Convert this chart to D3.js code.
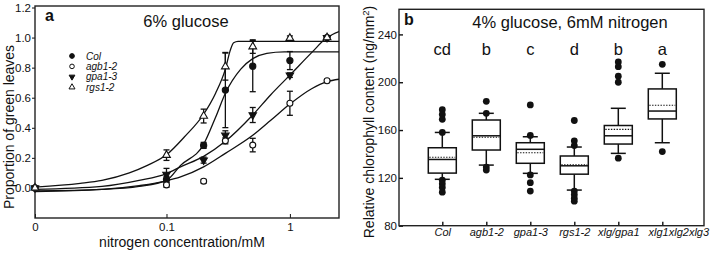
<!DOCTYPE html>
<html>
<head>
<meta charset="utf-8">
<script src="https://cdn.jsdelivr.net/npm/d3@7"></script>
<style>
  body { margin: 0; background: #fff; }
  svg { display: block; font-family: "Liberation Sans", Arial, sans-serif; }
</style>
</head>
<body>
<script>
// panel a: proportion of green leaves vs nitrogen
const conc = [0, 0.1, 0.2, 0.3, 0.5, 1, 2]
const colMean = [0, 0.056, 0.283, 0.651, 0.81, 0.847, 1.0]
const colErr = [0, 0.02, 0.02, 0.25, 0.17, 0.06, 0.01]
const agbMean = [0, 0.02, 0.045, 0.313, 0.285, 0.563, 0.713]
const agbErr = [0, 0.015, 0.012, 0.02, 0.045, 0.08, 0.01]
const gpaMean = [0, 0.09, 0.185, 0.35, 0.485, 0.75, 1.0]
const gpaErr = [0, 0.04, 0.02, 0.03, 0.05, 0.015, 0.01]
const rgsMean = [0, 0.218, 0.478, 0.807, 0.94, 0.996, 1.0]
const rgsErr = [0, 0.035, 0.046, 0.09, 0.045, 0.015, 0.01]

// fitted curves [conc, value]
const colFit = [[0.0086, -0.02], [0.03, -0.01], [0.06, 0.01], [0.1, 0.05], [0.13, 0.15], [0.2, 0.29], [0.25, 0.47], [0.3, 0.63], [0.4, 0.79], [0.5, 0.86], [0.65, 0.895], [0.9, 0.905], [2.5, 0.905]]
const agbFit = [[0.0086, -0.024], [0.03, -0.01], [0.06, 0.015], [0.1, 0.047], [0.13, 0.073], [0.2, 0.14], [0.3, 0.23], [0.5, 0.35], [0.7, 0.45], [1, 0.558], [1.5, 0.66], [2, 0.707], [2.5, 0.723]]
const gpaFit = [[0.0086, -0.01], [0.03, 0.01], [0.06, 0.05], [0.1, 0.095], [0.13, 0.14], [0.2, 0.21], [0.3, 0.31], [0.5, 0.485], [0.7, 0.62], [1, 0.75], [1.5, 0.9], [2, 1.0], [2.5, 1.04]]
const rgsFit = [[0.0086, 0.005], [0.02, 0.03], [0.03, 0.05], [0.05, 0.1], [0.07, 0.15], [0.1, 0.22], [0.14, 0.34], [0.2, 0.49], [0.25, 0.63], [0.3, 0.79], [0.33, 0.92], [0.35, 0.965], [0.38, 0.975], [2.5, 0.975]]

const yTicksA = [0, 0.2, 0.4, 0.6, 0.8, 1.0, 1.2]
const xTickLabelsA = ['0', '0.1', '1']

// panel b: chlorophyll boxplots
const genotypes = ['Col', 'agb1-2', 'gpa1-3', 'rgs1-2', 'xlg/gpa1', 'xlg1xlg2xlg3']
const letters = ['cd', 'b', 'c', 'd', 'b', 'a']
const q1 = [124, 143.3, 132.2, 123.1, 148.3, 169.3]
const q3 = [145.2, 168.4, 149.4, 138.3, 163.8, 194.4]
const median = [135.4, 155.2, 143.9, 130.1, 155.2, 175.9]
const mean = [137.2, 154, 141, 131, 160.6, 180.7]
const whiskLo = [118.8, 130.7, 123.8, 109.8, 140.5, 149.4]
const whiskHi = [158, 174, 154.4, 145.8, 178.2, 207.5]
const outliers = [
  [177, 173, 169, 158, 118, 115, 112, 108],
  [184, 174, 129, 126.5],
  [181, 155.5, 122.5, 116, 109],
  [168, 151, 147, 109, 106, 103, 100.5],
  [217, 213, 205, 200, 136.5],
  [215, 142]
]
const yTicksB = [80, 120, 160, 200, 240]

const width = 711
const height = 253
const ink = '#111'

const svg = d3.select('body').append('svg')
  .attr('width', width)
  .attr('height', height)

// ---------- panel a ----------
const xMin = 0.0086
const xA = d3.scaleLog().domain([xMin, 2.5]).range([35, 339])
const yA = d3.scaleLinear().domain([-0.2, 1.21]).range([218, 6])
const xPos = c => xA(c === 0 ? xMin : c)

const ga = svg.append('g')

ga.append('defs').append('clipPath').attr('id', 'clipA')
  .append('rect')
  .attr('x', xA.range()[0]).attr('y', yA.range()[1])
  .attr('width', xA.range()[1] - xA.range()[0])
  .attr('height', yA.range()[0] - yA.range()[1])

const yAxisA = d3.axisLeft(yA)
  .tickValues(yTicksA)
  .tickFormat(d3.format('.1f'))
  .tickSize(3)
  .tickPadding(1)
ga.append('g')
  .attr('transform', `translate(${xA.range()[0]},0)`)
  .call(yAxisA)
  .call(g => g.select('.domain').remove())
  .call(g => g.selectAll('text').attr('font-size', 11.5).attr('fill', ink).attr('font-family', null))
  .call(g => g.selectAll('line').attr('stroke', ink))

const xAxisA = d3.axisBottom(xA)
  .tickValues([xMin, 0.1, 1])
  .tickFormat((d, i) => xTickLabelsA[i])
  .tickSize(-4)
  .tickPadding(5)
ga.append('g')
  .attr('transform', `translate(0,${yA.range()[0]})`)
  .call(xAxisA)
  .call(g => g.select('.domain').remove())
  .call(g => g.selectAll('text').attr('font-size', 11.5).attr('fill', ink).attr('font-family', null))
  .call(g => g.selectAll('line').attr('stroke', ink))

ga.append('rect')
  .attr('x', xA.range()[0]).attr('y', yA.range()[1])
  .attr('width', xA.range()[1] - xA.range()[0])
  .attr('height', yA.range()[0] - yA.range()[1])
  .attr('fill', 'none').attr('stroke', '#222').attr('stroke-width', 1.4)

// fit curves
const fitLine = d3.line()
  .x(d => xA(d[0]))
  .y(d => yA(d[1]))
  .curve(d3.curveMonotoneX)

ga.append('g')
  .attr('clip-path', 'url(#clipA)')
  .selectAll('path')
  .data([colFit, agbFit, gpaFit, rgsFit])
  .join('path')
  .attr('d', fitLine)
  .attr('fill', 'none')
  .attr('stroke', ink)
  .attr('stroke-width', 1.3)

const seriesA = [
  { name: 'Col', mean: colMean, err: colErr, type: d3.symbolCircle, size: 30, fill: ink, rot: 0 },
  { name: 'gpa1-3', mean: gpaMean, err: gpaErr, type: d3.symbolTriangle, size: 24, fill: ink, rot: 180 },
  { name: 'agb1-2', mean: agbMean, err: agbErr, type: d3.symbolCircle, size: 28, fill: '#fff', rot: 0 },
  { name: 'rgs1-2', mean: rgsMean, err: rgsErr, type: d3.symbolTriangle, size: 26, fill: '#fff', rot: 0 }
]

// error bars
seriesA.forEach(s => {
  const pts = conc.map((c, i) => ({ c, m: s.mean[i], e: s.err[i] })).filter(d => d.e > 0.005)
  const eb = ga.append('g').attr('stroke', ink).attr('stroke-width', 1.3)
  eb.selectAll('line.v').data(pts).join('line').attr('class', 'v')
    .attr('x1', d => xPos(d.c)).attr('x2', d => xPos(d.c))
    .attr('y1', d => yA(d.m - d.e)).attr('y2', d => yA(d.m + d.e))
  eb.selectAll('line.t').data(pts).join('line').attr('class', 't')
    .attr('x1', d => xPos(d.c) - 3).attr('x2', d => xPos(d.c) + 3)
    .attr('y1', d => yA(d.m + d.e)).attr('y2', d => yA(d.m + d.e))
  eb.selectAll('line.b').data(pts).join('line').attr('class', 'b')
    .attr('x1', d => xPos(d.c) - 3).attr('x2', d => xPos(d.c) + 3)
    .attr('y1', d => yA(d.m - d.e)).attr('y2', d => yA(d.m - d.e))
})

// markers
seriesA.forEach(s => {
  ga.append('g')
    .selectAll('path')
    .data(conc.map((c, i) => ({ c, m: s.mean[i] })))
    .join('path')
    .attr('d', d3.symbol().type(s.type).size(s.size))
    .attr('transform', d => `translate(${xPos(d.c)},${yA(d.m)}) rotate(${s.rot})`)
    .attr('fill', s.fill)
    .attr('stroke', ink)
    .attr('stroke-width', 1.1)
})

// legend
const legendOrder = ['Col', 'agb1-2', 'gpa1-3', 'rgs1-2']
const legend = ga.append('g')
legendOrder.forEach((name, i) => {
  const s = seriesA.find(d => d.name === name)
  const ly = 56 + i * 10.4
  legend.append('path')
    .attr('d', d3.symbol().type(s.type).size(s.size * 0.6)())
    .attr('transform', `translate(72,${ly}) rotate(${s.rot})`)
    .attr('fill', s.fill).attr('stroke', ink).attr('stroke-width', 1)
  legend.append('text')
    .attr('x', 86).attr('y', ly + 3.5)
    .attr('font-size', 10).attr('font-style', 'italic').attr('fill', ink)
    .text(name)
})

ga.append('text').attr('x', 45).attr('y', 21)
  .attr('font-size', 16).attr('font-weight', 'bold').attr('fill', ink).text('a')
ga.append('text').attr('x', 186).attr('y', 27).attr('text-anchor', 'middle')
  .attr('font-size', 16.5).attr('fill', ink).text('6% glucose')
ga.append('text').attr('x', 182).attr('y', 247).attr('text-anchor', 'middle')
  .attr('font-size', 14).attr('fill', ink).text('nitrogen concentration/mM')
ga.append('text')
  .attr('transform', 'translate(14,127) rotate(-90)')
  .attr('text-anchor', 'middle')
  .attr('font-size', 14).attr('fill', ink).text('Proportion of green leaves')

// ---------- panel b ----------
const xB = d3.scalePoint().domain(genotypes).range([442.3, 662.3])
const yB = d3.scaleLinear().domain([80, 261]).range([225.7, 9.3])
const boxW = 28
const capW = 15

const gb = svg.append('g')

const yAxisB = d3.axisLeft(yB)
  .tickValues(yTicksB)
  .tickSize(-4)
  .tickPadding(2)
gb.append('g')
  .attr('transform', 'translate(399,0)')
  .call(yAxisB)
  .call(g => g.select('.domain').remove())
  .call(g => g.selectAll('text').attr('font-size', 11.5).attr('fill', ink).attr('font-family', null))
  .call(g => g.selectAll('line').attr('stroke', ink).attr('stroke-width', 1.4))

const xAxisB = d3.axisBottom(xB)
  .tickSize(-4)
  .tickPadding(3)
gb.append('g')
  .attr('transform', `translate(0,${yB.range()[0]})`)
  .call(xAxisB)
  .call(g => g.select('.domain').remove())
  .call(g => g.selectAll('text').attr('font-size', 11).attr('font-style', 'italic').attr('fill', ink).attr('font-family', null))
  .call(g => g.selectAll('text').filter(d => d === 'xlg1xlg2xlg3').attr('dx', 16))
  .call(g => g.selectAll('line').attr('stroke', ink).attr('stroke-width', 1.4))

gb.append('rect')
  .attr('x', 399).attr('y', yB.range()[1])
  .attr('width', 305).attr('height', yB.range()[0] - yB.range()[1])
  .attr('fill', 'none').attr('stroke', '#222').attr('stroke-width', 1.4)

const boxes = genotypes.map((g, i) => ({
  g, q1: q1[i], q3: q3[i], med: median[i], mean: mean[i],
  lo: whiskLo[i], hi: whiskHi[i], out: outliers[i], letter: letters[i]
}))

const bx = gb.selectAll('g.box').data(boxes).join('g').attr('class', 'box')
  .attr('stroke', ink).attr('stroke-width', 1.5)

bx.append('line')
  .attr('x1', d => xB(d.g)).attr('x2', d => xB(d.g))
  .attr('y1', d => yB(d.q3)).attr('y2', d => yB(d.hi))
bx.append('line')
  .attr('x1', d => xB(d.g)).attr('x2', d => xB(d.g))
  .attr('y1', d => yB(d.q1)).attr('y2', d => yB(d.lo))
bx.append('line')
  .attr('x1', d => xB(d.g) - capW / 2).attr('x2', d => xB(d.g) + capW / 2)
  .attr('y1', d => yB(d.hi)).attr('y2', d => yB(d.hi))
bx.append('line')
  .attr('x1', d => xB(d.g) - capW / 2).attr('x2', d => xB(d.g) + capW / 2)
  .attr('y1', d => yB(d.lo)).attr('y2', d => yB(d.lo))
bx.append('rect')
  .attr('x', d => xB(d.g) - boxW / 2).attr('width', boxW)
  .attr('y', d => yB(d.q3)).attr('height', d => yB(d.q1) - yB(d.q3))
  .attr('fill', '#fff')
bx.append('line')
  .attr('x1', d => xB(d.g) - boxW / 2).attr('x2', d => xB(d.g) + boxW / 2)
  .attr('y1', d => yB(d.med)).attr('y2', d => yB(d.med))
bx.append('line')
  .attr('x1', d => xB(d.g) - boxW / 2 + 1).attr('x2', d => xB(d.g) + boxW / 2 - 1)
  .attr('y1', d => yB(d.mean)).attr('y2', d => yB(d.mean))
  .attr('stroke-width', 1.1).attr('stroke-dasharray', '1.4,1.4')

bx.selectAll('circle')
  .data(d => d.out.map(v => ({ g: d.g, v })))
  .join('circle')
  .attr('cx', d => xB(d.g)).attr('cy', d => yB(d.v))
  .attr('r', 3.4).attr('fill', ink).attr('stroke', 'none')

gb.selectAll('text.letter').data(boxes).join('text').attr('class', 'letter')
  .attr('x', d => xB(d.g)).attr('y', 55)
  .attr('text-anchor', 'middle').attr('font-size', 16.5).attr('fill', ink)
  .text(d => d.letter)

gb.append('text').attr('x', 404).attr('y', 25)
  .attr('font-size', 16).attr('font-weight', 'bold').attr('fill', ink).text('b')
gb.append('text').attr('x', 570).attr('y', 28).attr('text-anchor', 'middle')
  .attr('font-size', 16.5).attr('fill', ink).text('4% glucose, 6mM nitrogen')

const yLabB = gb.append('text')
  .attr('transform', 'translate(374,122) rotate(-90)')
  .attr('text-anchor', 'middle')
  .attr('font-size', 14).attr('fill', ink)
yLabB.append('tspan').text('Relative chlorophyll content (ng/mm')
yLabB.append('tspan').attr('dy', -5).attr('font-size', 9.5).text('2')
yLabB.append('tspan').attr('dy', 5).text(')')
</script>
</body>
</html>
